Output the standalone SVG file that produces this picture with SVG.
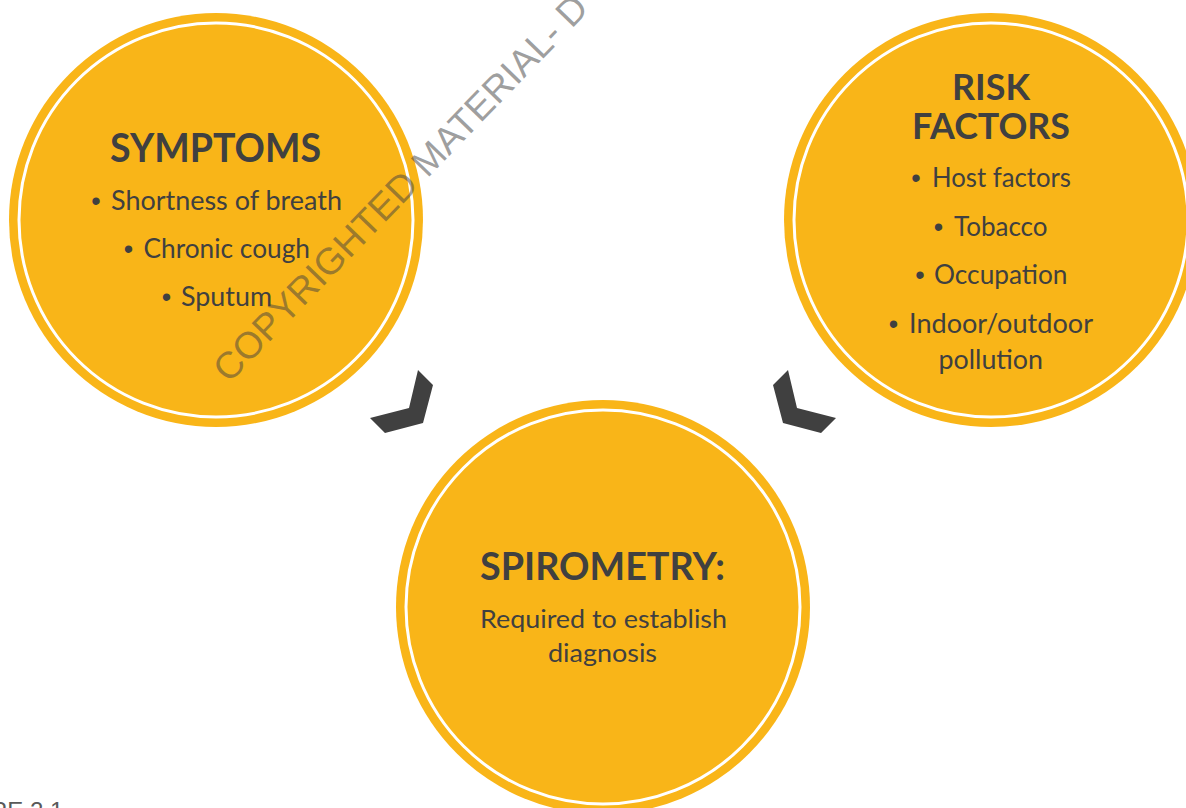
<svg xmlns="http://www.w3.org/2000/svg" width="1186" height="808" viewBox="0 0 1186 808">
  <style>
    .disc { fill: #F9B518; }
    .ring { fill: none; stroke: #FFFFFF; stroke-width: 3; }
    .title { font-family: Lato, "Open Sans", "Liberation Sans", sans-serif; font-weight: 700; fill: #404040; }
    .body { font-family: Lato, "Open Sans", "Liberation Sans", sans-serif; font-weight: 400; fill: #404040; }
    .bullet { font-family: "Liberation Sans", sans-serif; fill: #404040; text-anchor: middle; }
    .chev { fill: #404040; }
    .wm { font-family: "Liberation Sans", Arial, sans-serif; font-size: 37.5px; fill: #404040; fill-opacity: 0.5; }
    .caption { font-family: "Liberation Sans", Arial, sans-serif; font-size: 24px; fill: #595959; }
  </style>

  <rect x="0" y="0" width="1186" height="808" fill="#FFFFFF"/>

  <g id="symptoms">
    <circle class="disc" cx="216" cy="220" r="207"/>
    <circle class="ring" cx="216" cy="220" r="197"/>
    <text class="title" x="110" y="162" font-size="39.5" textLength="211" lengthAdjust="spacingAndGlyphs">SYMPTOMS</text>
    <text class="bullet" x="96" y="210" font-size="27">•</text>
    <text class="body" x="111" y="210" font-size="27" textLength="231" lengthAdjust="spacingAndGlyphs">Shortness of breath</text>
    <text class="bullet" x="128.5" y="258" font-size="27">•</text>
    <text class="body" x="143.5" y="258" font-size="27" textLength="166.5" lengthAdjust="spacingAndGlyphs">Chronic cough</text>
    <text class="bullet" x="166.5" y="306" font-size="27">•</text>
    <text class="body" x="181" y="306" font-size="27" textLength="91" lengthAdjust="spacingAndGlyphs">Sputum</text>
  </g>

  <g id="risk-factors">
    <circle class="disc" cx="991" cy="220" r="207"/>
    <circle class="ring" cx="991" cy="220" r="197"/>
    <text class="title" x="952" y="99.5" font-size="35.6" textLength="78" lengthAdjust="spacingAndGlyphs">RISK</text>
    <text class="title" x="912" y="138.5" font-size="35.6" textLength="158" lengthAdjust="spacingAndGlyphs">FACTORS</text>
    <text class="bullet" x="916" y="187" font-size="27">•</text>
    <text class="body" x="932" y="187" font-size="27" textLength="139" lengthAdjust="spacingAndGlyphs">Host factors</text>
    <text class="bullet" x="938.5" y="236" font-size="27">•</text>
    <text class="body" x="954" y="236" font-size="27" textLength="93.5" lengthAdjust="spacingAndGlyphs">Tobacco</text>
    <text class="bullet" x="920" y="284" font-size="27">•</text>
    <text class="body" x="934" y="284" font-size="27" textLength="133.5" lengthAdjust="spacingAndGlyphs">Occupation</text>
    <text class="bullet" x="893.5" y="333" font-size="27">•</text>
    <text class="body" x="909" y="333" font-size="27" textLength="184" lengthAdjust="spacingAndGlyphs">Indoor/outdoor</text>
    <text class="body" x="938.5" y="368.5" font-size="27" textLength="104.5" lengthAdjust="spacingAndGlyphs">pollution</text>
  </g>

  <g id="spirometry">
    <circle class="disc" cx="603" cy="607" r="207"/>
    <circle class="ring" cx="603" cy="607" r="197"/>
    <text class="title" x="480" y="580" font-size="38" textLength="245" lengthAdjust="spacingAndGlyphs">SPIROMETRY:</text>
    <text class="body" x="480" y="627.5" font-size="25" textLength="247" lengthAdjust="spacingAndGlyphs">Required to establish</text>
    <text class="body" x="548" y="662" font-size="25" textLength="109" lengthAdjust="spacingAndGlyphs">diagnosis</text>
  </g>

  <g id="connectors">
    <polygon class="chev" points="418,370 433,385 423,423 385,433 370,418 409,408"/>
    <polygon class="chev" points="788,370 773,385 783,423 821,433 836,418 797,408"/>
  </g>

  <text class="wm" transform="translate(229,384) rotate(-46)">COPYRIGHTED MATERIAL- D</text>
  <text class="caption" x="-10" y="819">RE 2.1</text>
</svg>
